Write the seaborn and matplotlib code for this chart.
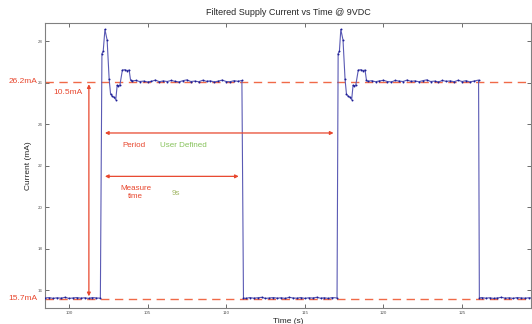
import numpy as np
import pandas as pd
import matplotlib
matplotlib.use("Agg")
import matplotlib.pyplot as plt
import seaborn as sns

# Supply current samples (time in s, current in mA)
base1_t = [98.5, 98.75, 99.0, 99.25, 99.5, 99.75, 100.0, 100.25, 100.5, 100.75,
           101.0, 101.25, 101.5, 101.75, 102.0]
base1_i = [15.62, 15.64, 15.60, 15.63, 15.61, 15.65, 15.60, 15.62, 15.64, 15.61,
           15.63, 15.60, 15.64, 15.62, 15.61]

pulse1_t = [102.1, 102.18, 102.29, 102.43, 102.56, 102.65, 102.75, 102.85, 102.98,
            103.07, 103.15, 103.24, 103.4, 103.55, 103.7, 103.83, 103.92]
pulse_i = [27.4, 27.5, 28.56, 28.05, 26.15, 25.44, 25.35, 25.3, 25.18,
           25.87, 25.85, 25.87, 26.6, 26.62, 26.58, 26.6, 26.12]

flat1_t = [104.0, 104.25, 104.5, 104.75, 105.0, 105.25, 105.5, 105.75, 106.0, 106.25,
           106.5, 106.75, 107.0, 107.25, 107.5, 107.75, 108.0, 108.25, 108.5, 108.75,
           109.0, 109.25, 109.5, 109.75, 110.0, 110.25, 110.5, 110.75, 111.0]
flat1_i = [26.08, 26.10, 26.05, 26.07, 26.03, 26.06, 26.12, 26.04, 26.08, 26.05,
           26.10, 26.06, 26.03, 26.09, 26.13, 26.05, 26.07, 26.04, 26.11, 26.06,
           26.08, 26.03, 26.07, 26.12, 26.05, 26.04, 26.09, 26.06, 26.10]

base2_t = [111.1, 111.25, 111.5, 111.75, 112.0, 112.25, 112.5, 112.75, 113.0, 113.25,
           113.5, 113.75, 114.0, 114.25, 114.5, 114.75, 115.0, 115.25, 115.5, 115.75,
           116.0, 116.25, 116.5, 116.75, 117.05]
base2_i = [15.62, 15.60, 15.64, 15.61, 15.63, 15.65, 15.60, 15.62, 15.64, 15.61,
           15.63, 15.60, 15.65, 15.62, 15.61, 15.64, 15.60, 15.63, 15.62, 15.65,
           15.61, 15.63, 15.60, 15.64, 15.62]

pulse2_t = [117.12, 117.2, 117.29, 117.43, 117.56, 117.65, 117.75, 117.85, 117.98,
            118.07, 118.15, 118.24, 118.4, 118.55, 118.7, 118.83, 118.92]

flat2_t = [119.0, 119.25, 119.5, 119.75, 120.0, 120.25, 120.5, 120.75, 121.0, 121.25,
           121.5, 121.75, 122.0, 122.25, 122.5, 122.75, 123.0, 123.25, 123.5, 123.75,
           124.0, 124.25, 124.5, 124.75, 125.0, 125.25, 125.5, 125.75, 126.05]
flat2_i = [26.06, 26.09, 26.04, 26.08, 26.11, 26.05, 26.03, 26.10, 26.07, 26.05,
           26.12, 26.06, 26.08, 26.04, 26.09, 26.13, 26.05, 26.07, 26.03, 26.10,
           26.06, 26.08, 26.04, 26.11, 26.05, 26.09, 26.03, 26.07, 26.12]

base3_t = [126.1, 126.25, 126.5, 126.75, 127.0, 127.25, 127.5, 127.75, 128.0, 128.25,
           128.5, 128.75, 129.0, 129.25, 129.5]
base3_i = [15.62, 15.64, 15.61, 15.63, 15.60, 15.62, 15.65, 15.61, 15.63, 15.60,
           15.64, 15.62, 15.61, 15.63, 15.62]

high_ref = 26.03
low_ref = 15.58

df = pd.DataFrame({
    "time": base1_t + pulse1_t + flat1_t + base2_t + pulse2_t + flat2_t + base3_t,
    "current": base1_i + pulse_i + flat1_i + base2_i + pulse_i + flat2_i + base3_i,
})

sns.set_style("ticks")
plt.rcParams["font.family"] = ["Liberation Sans", "DejaVu Sans"]

red = "#e8472e"
green = "#86c25a"

fig = plt.figure(figsize=(5.32, 3.24), dpi=100)
ax = fig.add_axes([0.0846, 0.049, 0.914, 0.88])

sns.lineplot(data=df, x="time", y="current", ax=ax, color="#5a5ab4",
             linewidth=0.8, sort=False, estimator=None, zorder=3)
sns.scatterplot(data=df, x="time", y="current", ax=ax, color="#1c1c96",
                s=2, linewidth=0, marker="o", zorder=4)

for lvl in (high_ref, low_ref):
    ax.axhline(lvl, color="#f06a48", lw=1.0, dashes=(6, 4), zorder=2)

ax.set_xlim(98.48, 129.4)
ax.set_ylim(15.13, 28.87)
ax.set_xticks([100, 105, 110, 115, 120, 125])
ax.set_yticks([16, 18, 20, 22, 24, 26, 28])
ax.tick_params(direction="in", length=3, width=0.6, labelsize=3.2,
               colors="#555555", top=True, right=True, pad=2)
for sp in ax.spines.values():
    sp.set_color("#808080")
    sp.set_linewidth(0.8)

ax.set_title("Filtered Supply Current vs Time @ 9VDC", fontsize=6.5, pad=6)
ax.set_xlabel("Time (s)", fontsize=6, labelpad=2)
ax.set_ylabel("Current (mA)", fontsize=6, labelpad=4)

ytr = ax.get_yaxis_transform()
ax.text(-0.016, high_ref, "26.2mA", transform=ytr, color=red, fontsize=6,
        ha="right", va="center")
ax.text(-0.016, low_ref, "15.7mA", transform=ytr, color=red, fontsize=6,
        ha="right", va="center")

arrow = dict(arrowstyle="<|-|>", color=red, lw=0.9, mutation_scale=5,
             shrinkA=0, shrinkB=0)
ax.annotate("", xy=(101.27, 25.92), xytext=(101.27, 15.7), arrowprops=arrow)
ax.annotate("", xy=(102.29, 23.57), xytext=(116.83, 23.57), arrowprops=arrow)
ax.annotate("", xy=(102.29, 21.48), xytext=(110.8, 21.48), arrowprops=arrow)

ax.text(99.97, 25.54, "10.5mA", color=red, fontsize=6, ha="center", va="center")
ax.text(104.13, 22.96, "Period", color=red, fontsize=5.8, ha="center", va="center")
ax.text(107.3, 22.96, "User Defined", color=green, fontsize=5.8, ha="center", va="center")
ax.text(104.25, 20.7, "Measure\ntime", color=red, fontsize=5.8, ha="center",
        va="center", linespacing=1.1)
ax.text(106.8, 20.67, "9s", color="#a3b868", fontsize=5.8, ha="center", va="center")

fig.savefig("out.png", dpi=100)
